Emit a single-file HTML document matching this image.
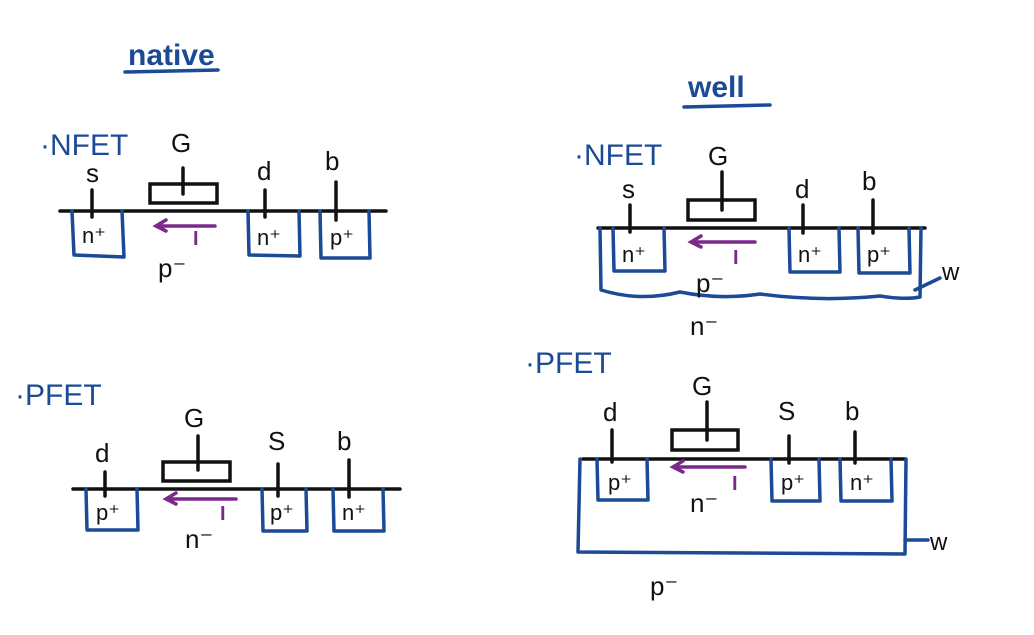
<!DOCTYPE html>
<html><head><meta charset="utf-8"><style>
html,body{margin:0;padding:0;background:#fff;}
svg{display:block;}
.k{stroke:#111;stroke-width:3.5;fill:none;stroke-linecap:round;}
.b{stroke:#1b4a96;stroke-width:3.5;fill:none;stroke-linecap:round;stroke-linejoin:round;}
.p{stroke:#7b2a8c;stroke-width:3.5;fill:none;stroke-linecap:round;}
text{font-family:"Liberation Sans",sans-serif;}
.tk{fill:#111;font-size:26px;}
.tb{fill:#1b4a96;font-size:22px;}
.tbl{fill:#1b4a96;font-size:30px;}
.tp{fill:#7b2a8c;font-size:20px;font-weight:bold;}
</style></head><body>
<svg width="1034" height="635" viewBox="0 0 1034 635">
<!-- titles -->
<g>
<text x="128" y="65" class="tbl" style="font-weight:bold">native</text>
<path class="b" d="M125 72 L218 70"/>
</g>
<g>
<text x="688" y="97" class="tbl" style="font-weight:bold">well</text>
<path class="b" d="M684 107 L770 105"/>
</g>

<!-- native NFET -->
<g>
<text x="40" y="155" class="tbl">·NFET</text>
<path class="k" d="M60 211 L386 211"/>
<rect x="150" y="184" width="67" height="19" class="k"/>
<path class="k" d="M183 168 L183 194"/>
<text x="171" y="152" class="tk">G</text>
<text x="86" y="182" class="tk">s</text><path class="k" d="M92 190 L92 217"/>
<text x="257" y="180" class="tk">d</text><path class="k" d="M265 190 L265 217"/>
<text x="325" y="170" class="tk">b</text><path class="k" d="M336 182 L336 220"/>
<path class="b" d="M72 211 L74 255 L124 257 L122 211"/>
<path class="b" d="M248 211 L249 255 L300 256 L299 211"/>
<path class="b" d="M320 211 L321 258 L370 258 L369 211"/>
<text x="82" y="243" class="tk" style="font-size:22px">n⁺</text>
<text x="257" y="245" class="tk" style="font-size:22px">n⁺</text>
<text x="330" y="245" class="tk" style="font-size:22px">p⁺</text>
<text x="158" y="277" class="tk">p⁻</text>
<path class="p" d="M215 226 L158 226 M166 220 L156 226 L166 231"/>
<text x="193" y="245" class="tp">I</text>
</g>

<!-- native PFET -->
<g>
<text x="15" y="405" class="tbl">·PFET</text>
<path class="k" d="M73 489 L400 489"/>
<rect x="163" y="462" width="67" height="19" class="k"/>
<path class="k" d="M198 436 L198 470"/>
<text x="184" y="427" class="tk">G</text>
<text x="95" y="462" class="tk">d</text><path class="k" d="M105 472 L105 496"/>
<text x="268" y="450" class="tk">S</text><path class="k" d="M278 464 L278 496"/>
<text x="337" y="450" class="tk">b</text><path class="k" d="M349 460 L349 497"/>
<path class="b" d="M86 489 L87 530 L138 530 L137 489"/>
<path class="b" d="M262 489 L263 531 L307 531 L306 489"/>
<path class="b" d="M333 489 L334 531 L384 531 L383 489"/>
<text x="96" y="520" class="tk" style="font-size:22px">p⁺</text>
<text x="270" y="520" class="tk" style="font-size:22px">p⁺</text>
<text x="342" y="520" class="tk" style="font-size:22px">n⁺</text>
<text x="185" y="548" class="tk">n⁻</text>
<path class="p" d="M236 499 L168 499 M176 493 L166 499 L176 504"/>
<text x="220" y="520" class="tp">I</text>
</g>

<!-- well NFET -->
<g>
<text x="574" y="165" class="tbl">·NFET</text>
<path class="k" d="M598 228 L925 228"/>
<rect x="688" y="200" width="67" height="20" class="k"/>
<path class="k" d="M722 172 L722 210"/>
<text x="708" y="165" class="tk">G</text>
<text x="622" y="198" class="tk">s</text><path class="k" d="M630 205 L630 232"/>
<text x="795" y="198" class="tk">d</text><path class="k" d="M803 205 L803 233"/>
<text x="862" y="190" class="tk">b</text><path class="k" d="M873 200 L873 233"/>
<path class="b" d="M613 228 L614 271 L665 271 L664 228"/>
<path class="b" d="M789 228 L790 272 L840 272 L839 228"/>
<path class="b" d="M858 228 L859 273 L910 273 L909 228"/>
<path class="b" d="M600 228 L601 290 Q640 302 680 292 Q720 300 760 294 Q820 302 880 296 Q905 300 920 297 L921 228"/>
<path class="b" d="M915 290 L940 278"/>
<text x="942" y="280" class="tk" style="font-size:24px">w</text>
<text x="622" y="262" class="tk" style="font-size:22px">n⁺</text>
<text x="798" y="262" class="tk" style="font-size:22px">n⁺</text>
<text x="867" y="262" class="tk" style="font-size:22px">p⁺</text>
<text x="696" y="292" class="tk">p⁻</text>
<text x="690" y="335" class="tk">n⁻</text>
<path class="p" d="M755 242 L693 242 M701 236 L691 242 L701 247"/>
<text x="733" y="264" class="tp">I</text>
</g>

<!-- well PFET -->
<g>
<text x="525" y="373" class="tbl">·PFET</text>
<path class="k" d="M583 459 L905 459"/>
<rect x="672" y="430" width="66" height="20" class="k"/>
<path class="k" d="M707 402 L707 440"/>
<text x="692" y="395" class="tk">G</text>
<text x="603" y="421" class="tk">d</text><path class="k" d="M612 430 L612 462"/>
<text x="778" y="420" class="tk">S</text><path class="k" d="M789 436 L789 463"/>
<text x="845" y="420" class="tk">b</text><path class="k" d="M855 432 L855 463"/>
<path class="b" d="M597 459 L598 500 L648 500 L647 459"/>
<path class="b" d="M771 459 L772 501 L820 501 L819 459"/>
<path class="b" d="M840 459 L841 501 L892 501 L891 459"/>
<path class="b" d="M580 459 L578 552 L905 554 L906 459"/>
<path class="b" d="M905 540 L928 540"/>
<text x="930" y="550" class="tk" style="font-size:24px">w</text>
<text x="608" y="490" class="tk" style="font-size:22px">p⁺</text>
<text x="781" y="490" class="tk" style="font-size:22px">p⁺</text>
<text x="850" y="490" class="tk" style="font-size:22px">n⁺</text>
<text x="690" y="512" class="tk">n⁻</text>
<text x="650" y="595" class="tk">p⁻</text>
<path class="p" d="M745 467 L675 467 M683 461 L673 467 L683 472"/>
<text x="732" y="490" class="tp">I</text>
</g>
</svg>
</body></html>
